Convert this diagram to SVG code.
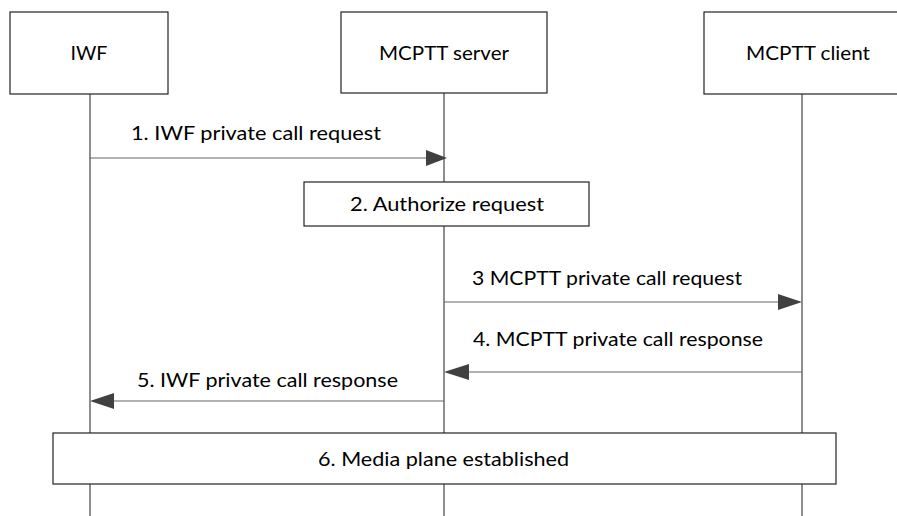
<svg xmlns="http://www.w3.org/2000/svg" width="897" height="516" viewBox="0 0 897 516">
<style>
.box{fill:#fff;stroke:#222;stroke-width:1.2}
.life{stroke:#444;stroke-width:1.2;fill:none}
.msg{stroke:#666;stroke-width:1.2;fill:none}
.head{fill:#404040}
text{font-family:Lato,"Liberation Sans",sans-serif;font-size:20px;fill:#000}
.title{font-size:19px}
</style>
<rect width="897" height="516" fill="#fff"/>
<g id="lifelines">
<line class="life" x1="90" y1="94" x2="90" y2="516"/>
<line class="life" x1="444" y1="93" x2="444" y2="516"/>
<line class="life" x1="802" y1="94" x2="802" y2="516"/>
</g>
<g id="iwf">
<rect class="box" x="10" y="12" width="158" height="82"/>
<text class="title" x="89" y="60" text-anchor="middle" textLength="37" lengthAdjust="spacingAndGlyphs">IWF</text>
</g>
<g id="server">
<rect class="box" x="341" y="12" width="206" height="81"/>
<text class="title" x="444" y="60" text-anchor="middle" textLength="130" lengthAdjust="spacingAndGlyphs">MCPTT server</text>
</g>
<g id="client">
<rect class="box" x="704" y="12" width="200" height="82"/>
<text class="title" x="808" y="60" text-anchor="middle" textLength="124" lengthAdjust="spacingAndGlyphs">MCPTT client</text>
</g>
<g id="connectors">
<line class="msg" x1="90" y1="158" x2="428" y2="158"/>
<polygon class="head" points="426,150 447,158 426,166"/>
<line class="msg" x1="444" y1="302" x2="780" y2="302"/>
<polygon class="head" points="778,294 802,302 778,310"/>
<line class="msg" x1="802" y1="372" x2="467" y2="372"/>
<polygon class="head" points="469,364 444,372 469,380"/>
<line class="msg" x1="444" y1="401" x2="112" y2="401"/>
<polygon class="head" points="114,393 90,401 114,409"/>
</g>
<g id="labels">
<text x="131" y="140" textLength="250" lengthAdjust="spacingAndGlyphs">1. IWF private call request</text>
<text x="472" y="285" textLength="270" lengthAdjust="spacingAndGlyphs">3 MCPTT private call request</text>
<text x="473" y="346" textLength="290" lengthAdjust="spacingAndGlyphs">4. MCPTT private call response</text>
<text x="137" y="387" textLength="261" lengthAdjust="spacingAndGlyphs">5. IWF private call response</text>
</g>
<g id="authorize">
<rect class="box" x="304" y="182" width="285" height="44"/>
<text x="350" y="211" textLength="194" lengthAdjust="spacingAndGlyphs">2. Authorize request</text>
</g>
<g id="media">
<rect class="box" x="53" y="433" width="783" height="51"/>
<text x="318" y="466" textLength="251" lengthAdjust="spacingAndGlyphs">6. Media plane established</text>
</g>
</svg>
